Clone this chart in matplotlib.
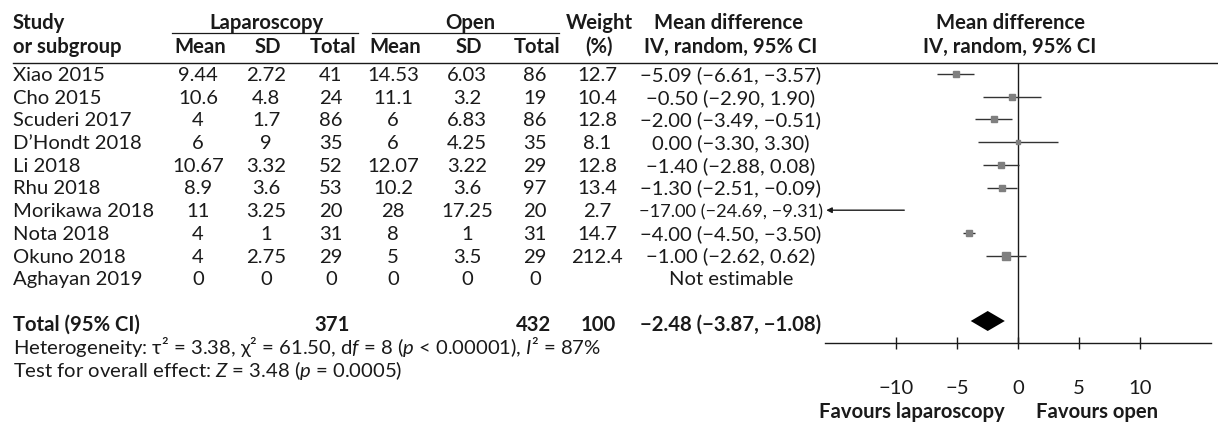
import numpy as np
import matplotlib
matplotlib.use('Agg')
import matplotlib.pyplot as plt

plt.rcParams['font.family'] = ['Lato', 'DejaVu Sans']
plt.rcParams['mathtext.fontset'] = 'custom'
plt.rcParams['mathtext.rm'] = 'Lato'
plt.rcParams['mathtext.it'] = 'Lato:italic'
plt.rcParams['mathtext.bf'] = 'Lato:bold'

# data
studies = ['Xiao 2015', 'Cho 2015', 'Scuderi 2017', 'D\u2019Hondt 2018', 'Li 2018',
           'Rhu 2018', 'Morikawa 2018', 'Nota 2018', 'Okuno 2018', 'Aghayan 2019']
lap_mean = ['9.44', '10.6', '4', '6', '10.67', '8.9', '11', '4', '4', '0']
lap_sd = ['2.72', '4.8', '1.7', '9', '3.32', '3.6', '3.25', '1', '2.75', '0']
lap_total = [41, 24, 86, 35, 52, 53, 20, 31, 29, 0]
open_mean = ['14.53', '11.1', '6', '6', '12.07', '10.2', '28', '8', '5', '0']
open_sd = ['6.03', '3.2', '6.83', '4.25', '3.22', '3.6', '17.25', '1', '3.5', '0']
open_total = [86, 19, 86, 35, 29, 97, 20, 31, 29, 0]
weight = ['12.7', '10.4', '12.8', '8.1', '12.8', '13.4', '2.7', '14.7', '212.4', '']
md = [-5.09, -0.50, -2.00, 0.00, -1.40, -1.30, -17.00, -4.00, -1.00, np.nan]
ci_lo = [-6.61, -2.90, -3.49, -3.30, -2.88, -2.51, -24.69, -4.50, -2.62, np.nan]
ci_hi = [-3.57, 1.90, -0.51, 3.30, 0.08, -0.09, -9.31, -3.50, 0.62, np.nan]

total_lap = 371
total_open = 432
total_weight = 100
total_md, total_lo, total_hi = -2.48, -3.87, -1.08
heterogeneity = 'Heterogeneity: \u03c4\u00b2 = 3.38, \u03c7\u00b2 = 61.50, d$f$ = 8 ($p$ < 0.00001), $I$\u00b2 = 87%'
overall = 'Test for overall effect: $Z$ = 3.48 ($p$ = 0.0005)'
xticks = [-10, -5, 0, 5, 10]

ink = '#1a1a1a'
fs = 14.6


def fmt(v):
    return f'{v:.2f}'.replace('-', '\u2212')


fig = plt.figure(figsize=(12.18, 4.24), dpi=100)
ax = fig.add_axes([0, 0, 1, 1])
ax.set_xlim(0, 1218)
ax.set_ylim(424, 0)
ax.axis('off')
renderer = fig.canvas.get_renderer()

# column centres (pixels)
cx = {'lm': 200, 'ls': 268, 'lt': 333, 'om': 395, 'os': 469, 'ot': 537,
      'w': 599, 'ci': 731, 'fp': 1010}
ci_width = 184

# headers
hb1, hb2 = 29, 53
ax.text(13, hb1, 'Study', fontsize=fs, fontweight='bold', color=ink, va='baseline')
ax.text(13, hb2, 'or subgroup', fontsize=fs, fontweight='bold', color=ink, va='baseline')
for txt, x in [('Laparoscopy', 266), ('Open', 470), ('Weight', cx['w']),
               ('Mean difference', 729), ('Mean difference', cx['fp'])]:
    ax.text(x, hb1, txt, fontsize=fs, fontweight='bold', color=ink, va='baseline', ha='center')
for txt, k in [('Mean', 'lm'), ('SD', 'ls'), ('Total', 'lt'), ('Mean', 'om'), ('SD', 'os'),
               ('Total', 'ot'), ('(%)', 'w'), ('IV, random, 95% CI', 'ci'),
               ('IV, random, 95% CI', 'fp')]:
    ax.text(cx[k], hb2, txt, fontsize=fs, fontweight='bold', color=ink, va='baseline', ha='center')
ax.plot([172, 358], [33, 33], color=ink, lw=0.9)
ax.plot([372, 559], [33, 33], color=ink, lw=0.9)
ax.plot([13, 1218], [63, 63], color=ink, lw=1.0)

# study rows
row_y = 74 + 22.7 * np.arange(len(studies))
for i, name in enumerate(studies):
    b = row_y[i] + 7
    ax.text(13, b, name, fontsize=fs, color=ink, va='baseline')
    for k, val in [('lm', lap_mean[i]), ('ls', lap_sd[i]), ('lt', lap_total[i]),
                   ('om', open_mean[i]), ('os', open_sd[i]), ('ot', open_total[i]),
                   ('w', weight[i])]:
        ax.text(cx[k] - 2, b, str(val), fontsize=fs, color=ink, va='baseline', ha='center')
    if np.isnan(md[i]):
        label = 'Not estimable'
    else:
        label = f'{fmt(md[i])} ({fmt(ci_lo[i])}, {fmt(ci_hi[i])})'
    t = ax.text(cx['ci'], b, label, fontsize=fs, color=ink, va='baseline', ha='center')
    # squeeze long labels so they stay inside the column
    wpx = t.get_window_extent(renderer).width
    if wpx > ci_width:
        t.set_fontsize(fs * ci_width / wpx)

# totals
tot_y = 321
tb = tot_y + 10
ax.text(13, tb, 'Total (95% CI)', fontsize=fs, fontweight='bold', color=ink, va='baseline')
ax.text(332, tb, str(total_lap), fontsize=fs, fontweight='bold', color=ink, va='baseline', ha='center')
ax.text(533, tb, str(total_open), fontsize=fs, fontweight='bold', color=ink, va='baseline', ha='center')
ax.text(598, tb, str(total_weight), fontsize=fs, fontweight='bold', color=ink, va='baseline', ha='center')
ax.text(cx['ci'], tb, f'{fmt(total_md)} ({fmt(total_lo)}, {fmt(total_hi)})', fontsize=fs,
        fontweight='bold', color=ink, va='baseline', ha='center')
ax.text(13, 354, heterogeneity, fontsize=fs, color=ink, va='baseline')
ax.text(13, 377, overall, fontsize=fs, color=ink, va='baseline')
ax.text(1005, 418, 'Favours laparoscopy', fontsize=fs, fontweight='bold', color=ink,
        va='baseline', ha='right')
ax.text(1036, 418, 'Favours open', fontsize=fs, fontweight='bold', color=ink,
        va='baseline', ha='left')

# forest panel
fx = fig.add_axes([825 / 1218, (424 - 343) / 424, (1211 - 825) / 1218, (343 - 63) / 424])
fx.set_xlim(-15.8, 15.8)
fx.set_ylim(343, 63)
fx.patch.set_visible(False)
for s in ['top', 'right', 'left']:
    fx.spines[s].set_visible(False)
fx.spines['bottom'].set_color(ink)
fx.spines['bottom'].set_linewidth(1.0)
fx.set_yticks([])
fx.set_xticks(xticks)
fx.tick_params(axis='x', direction='inout', length=9, width=1.0, color=ink,
               labelsize=fs, labelcolor=ink, pad=22)
fx.axvline(0, color=ink, lw=1.0)

xmin = fx.get_xlim()[0]
w_num = np.array([float(w) if w else 0 for w in weight])
sizes = 0.3 * np.clip(w_num, 0, 15) + 0.6
for i in range(len(studies)):
    if np.isnan(md[i]):
        continue
    y = row_y[i]
    if ci_lo[i] < xmin:
        fx.annotate('', xy=(xmin + 0.1, y), xytext=(ci_hi[i], y), annotation_clip=False,
                    arrowprops=dict(arrowstyle='-|>', color=ink, lw=1.0, mutation_scale=8,
                                    shrinkA=0, shrinkB=0))
        continue
    fx.hlines(y, ci_lo[i], ci_hi[i], color='#333333', lw=1.0)
    fx.plot(md[i], y, marker='s', ms=sizes[i], color='#7f7f7f', ls='none')

fx.fill([total_lo, total_md, total_hi, total_md], [tot_y, tot_y - 10, tot_y, tot_y + 10],
        color='black', lw=0)

fig.savefig('out.png', dpi=100)
